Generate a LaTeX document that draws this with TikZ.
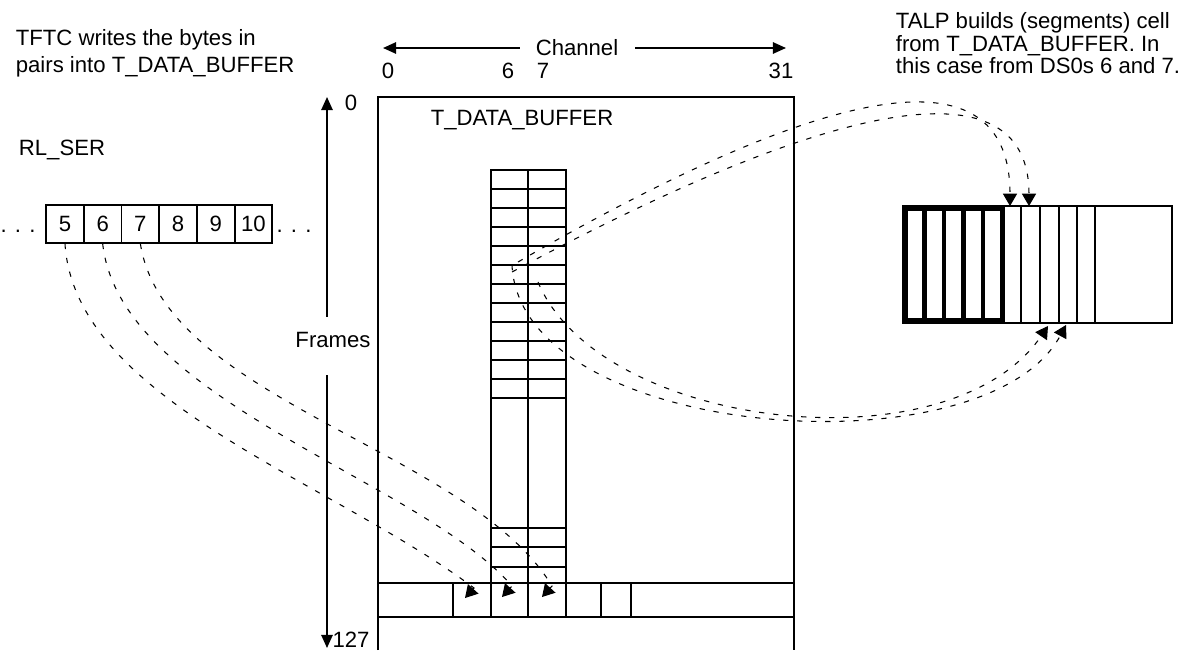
\documentclass[tikz,border=0pt]{standalone}
\usepackage{fontspec}
\setmainfont{Liberation Sans}
\usetikzlibrary{arrows.meta}

\begin{document}
\begin{tikzpicture}[
    x=0.02cm, y=-0.02cm,
    line width=1pt,
    every node/.style={font=\fontsize{12.6}{14}\selectfont, inner sep=0pt},
    sercell/.style={draw, line width=1pt, minimum width=0.754cm, minimum height=0.76cm},
    axistip/.style={>={Triangle[length=7.5pt,width=6.5pt]}},
    dashlink/.style={line width=0.6pt, dash pattern=on 3pt off 5pt,
      >={Triangle[length=7pt,width=8pt]}, ->},
    thickcell/.style={line width=2.8pt}
]
\useasboundingbox (0,0) rectangle (1180,650);

% notes
\node[anchor=north west, align=left, font=\fontsize{12.6}{15}\selectfont] (tftcnote) at (15,29)
  {TFTC writes the bytes in\\pairs into T\_DATA\_BUFFER};
\node[anchor=north west, align=left, font=\fontsize{12.6}{12.6}\selectfont] (talpnote) at (895,12)
  {TALP builds (segments) cell\\from T\_DATA\_BUFFER. In\\this case from DS0s 6 and 7.};

% channel axis
\coordinate (chl) at (383,48);
\coordinate (chr) at (786,48);
\node[anchor=base] (channel) at (577,55) {Channel};
\draw[axistip,<-] (chl) -- (520,48);
\draw[axistip,->] (635,48) -- (chr);
\foreach \ch/\xx in {0/388, 6/508, 7/543, 31/781}
  \node[anchor=base] (ch\ch) at (\xx,78) {\ch};

% frames axis
\coordinate (frtop) at (327,97);
\coordinate (frbot) at (327,648);
\node (frames) at (333,340) {Frames};
\draw[axistip,<-] (frtop) -- (327,317);
\draw[axistip,->] (327,375) -- (frbot);
\node[anchor=base] (frfirst) at (351,110) {0};
\node[anchor=base] (frlast) at (351,647) {127};

% T_DATA_BUFFER
\draw (378,650) |- (794,97) -- (794,650);
\node[anchor=base] (tdb) at (522,125) {T\_DATA\_BUFFER};

% DS0s 6 and 7
\draw (491,170) rectangle (566,583);
\draw (528,170) -- (528,617);
\foreach \k in {1,...,12}
  \draw (491,{170+19*\k}) -- (566,{170+19*\k});
\foreach \yy in {528,547,567}
  \draw (491,\yy) -- (566,\yy);

% one frame
\draw (378,583) -- (794,583) (378,617) -- (794,617);
\foreach \xx in {453,491,566,601,631}
  \draw (\xx,583) -- (\xx,617);

% RL_SER
\node[anchor=base] (rlser) at (62,155) {RL\_SER};
\foreach \n [count=\i from 0] in {5,...,10}
  \node[sercell] (ser\n) at ({65+37.7*\i},224) {\n};
\node[anchor=base] (dotsl) at (18,232) {. . .};
\node[anchor=base] (dotsr) at (294,232) {. . .};

% cell
\draw (903,206) rectangle (1172,323);
\foreach \xx in {1021,1040,1059,1077,1095}
  \draw (\xx,206) -- (\xx,323);
\draw[thickcell] (905.5,208.5) rectangle (1002.5,320.5);
\foreach \xx in {924.5,944,963.5,983}
  \draw[thickcell] (\xx,208.5) -- (\xx,320.5);

% RL_SER -> T_DATA_BUFFER
\coordinate (in5) at (465,598);
\coordinate (in6) at (502,597);
\coordinate (in7) at (542,597);
\draw[dashlink] (ser5.south) .. controls (75,400) and (330,480) .. (474,588)
  -- (in5);
\draw[dashlink] (ser6.south) .. controls (120,400) and (420,480) .. (512,586)
  -- (in6);
\draw[dashlink] (ser7.south) .. controls (165,400) and (470,450) .. (552,586)
  -- (in7);

% T_DATA_BUFFER -> cell
\coordinate (out1) at (518,262);
\coordinate (out2) at (512,272);
\coordinate (out3) at (538,282);
\coordinate (out4) at (512,265);
\coordinate (top1) at (1010,206);
\coordinate (top2) at (1029,206);
\coordinate (bot1) at (1048,326);
\coordinate (bot2) at (1066,325);
\draw[dashlink] (out1) .. controls (850,70) and (1010,55) .. (top1);
\draw[dashlink] (out2) .. controls (860,85) and (1029,70) .. (top2);
\draw[dashlink] (out3) .. controls (600,430) and (950,470) .. (bot1);
\draw[dashlink] (out4) .. controls (520,440) and (985,475) .. (bot2);
\end{tikzpicture}
\end{document}
